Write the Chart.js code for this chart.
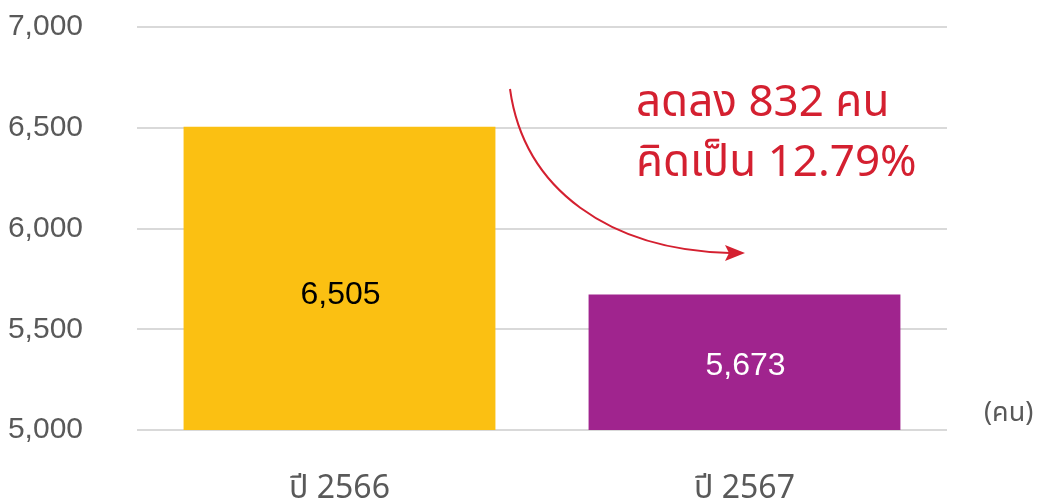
<!DOCTYPE html>
<html>
<head>
<meta charset="utf-8">
<script src="https://cdn.jsdelivr.net/npm/chart.js@4/dist/chart.umd.min.js"></script>
<style>
  html, body { margin: 0; padding: 0; background: #fff; }
  #wrap { width: 1040px; height: 500px; position: relative; }
</style>
</head>
<body>
<div id="wrap"><canvas id="myChart"></canvas></div>
<script>
const categories = ['ปี 2566', 'ปี 2567'];
const values = [6505, 5673];
const barColors = ['#FBC012', '#A0248E'];
const labelColors = ['#000000', '#ffffff'];
const yTicks = [5000, 5500, 6000, 6500, 7000];
const unitLabel = '(คน)';
const noteLines = ['ลดลง 832 คน', 'คิดเป็น 12.79%'];

const thaiFont = '"Noto Sans Thai", "Noto Sans", "Liberation Sans", sans-serif';
const tickFont = '"Liberation Sans", "Noto Sans Thai", Arial, sans-serif';

// value labels inside the bars, unit text, and the red note with arrow
const extrasPlugin = {
    id: 'extras',
    afterDraw(chart) {
        const ctx = chart.ctx;
        const xs = chart.scales.x;
        const ys = chart.scales.y;
        const labelOffsets = [17, 4];
        ctx.save();
        ctx.font = '32px ' + tickFont;
        ctx.textAlign = 'center';
        ctx.textBaseline = 'middle';
        values.forEach((v, i) => {
            const top = ys.getPixelForValue(v);
            const base = ys.getPixelForValue(ys.min);
            ctx.fillStyle = labelColors[i];
            ctx.fillText(v.toLocaleString('en-US'), xs.getPixelForValue(i) + 1, (top + base) / 2 + labelOffsets[i]);
        });

        // unit
        ctx.font = '27px ' + thaiFont;
        ctx.fillStyle = '#595959';
        ctx.textAlign = 'left';
        ctx.fillText(unitLabel, 984, 416);

        // note
        const red = '#D42030';
        ctx.fillStyle = red;
        ctx.font = '44px ' + thaiFont;
        ctx.fillText(noteLines[0], 636, 107);
        ctx.fillText(noteLines[1], 636, 167);

        // arrow
        ctx.strokeStyle = red;
        ctx.lineWidth = 2;
        ctx.beginPath();
        ctx.moveTo(510, 89);
        ctx.bezierCurveTo(524, 190, 610, 250, 730, 253);
        ctx.stroke();
        ctx.beginPath();
        ctx.moveTo(745, 253);
        ctx.lineTo(725, 245);
        ctx.lineTo(729, 253);
        ctx.lineTo(725, 261);
        ctx.closePath();
        ctx.fill();
        ctx.restore();
    }
};

const ctx = document.getElementById('myChart').getContext('2d');
new Chart(ctx, {
    type: 'bar',
    data: {
        labels: categories,
        datasets: [{
            data: values,
            backgroundColor: barColors,
            borderWidth: 0,
            barPercentage: 0.77,
            categoryPercentage: 1.0
        }]
    },
    options: {
        responsive: true,
        maintainAspectRatio: false,
        animation: false,
        layout: {
            padding: { left: 8, right: 93, top: 0, bottom: 0 }
        },
        scales: {
            x: {
                grid: { display: false },
                border: { display: false },
                afterFit: axis => { axis.height = 70; },
                ticks: {
                    color: '#595959',
                    font: { size: 32, family: thaiFont },
                    padding: 34
                }
            },
            y: {
                min: 5000,
                max: 7000,
                afterBuildTicks: axis => {
                    axis.ticks = yTicks.map(v => ({ value: v }));
                },
                afterFit: axis => {
                    axis.width = 129;
                    axis.paddingTop = 27;
                    axis.paddingBottom = 0;
                },
                grid: {
                    color: '#d9d9d9',
                    lineWidth: 2,
                    drawTicks: false
                },
                border: { display: false },
                ticks: {
                    color: '#595959',
                    font: { size: 30, family: tickFont },
                    padding: 54,
                    callback: v => v.toLocaleString('en-US')
                }
            }
        },
        plugins: {
            legend: { display: false },
            tooltip: { enabled: false }
        }
    },
    plugins: [extrasPlugin]
});
</script>
</body>
</html>
